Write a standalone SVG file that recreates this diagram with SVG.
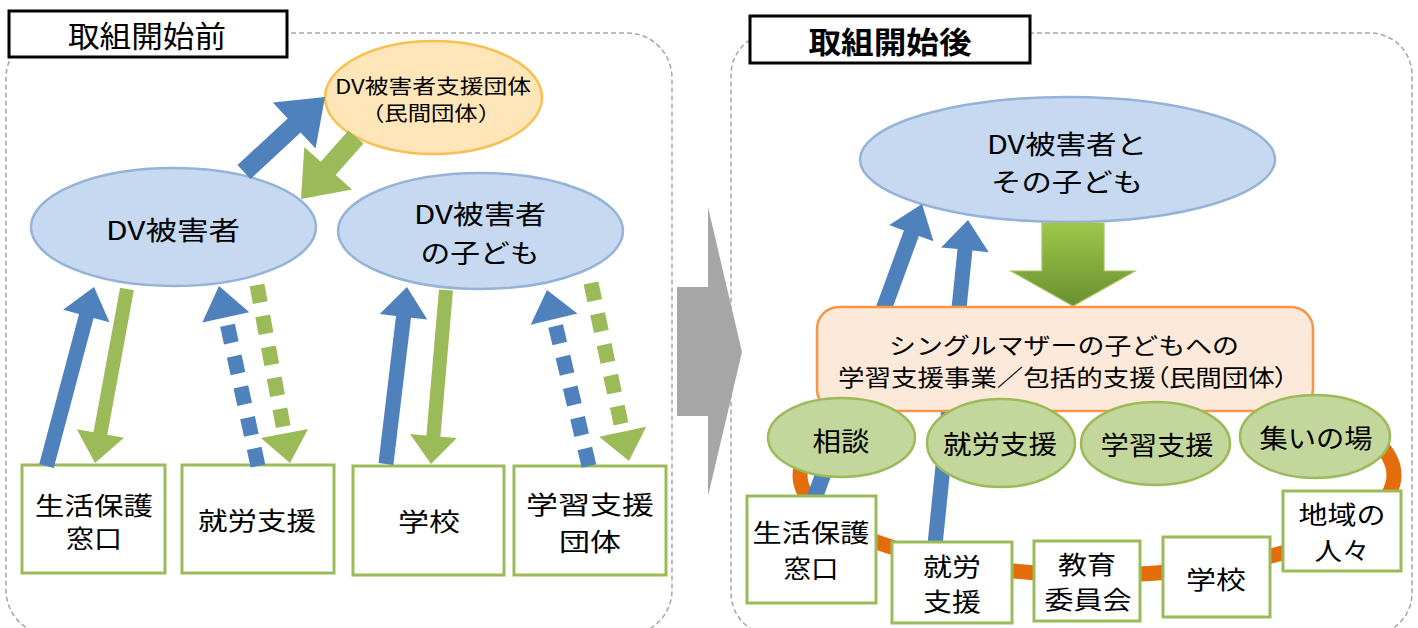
<svg xmlns="http://www.w3.org/2000/svg" width="1418" height="628" viewBox="0 0 1418 628">
<style>
.t{font-family:"Noto Sans CJK JP","Noto Sans CJK SC",sans-serif;fill:#000;text-anchor:middle;dominant-baseline:central}
.f30{font-size:30px}
.f26{font-size:26px}
.f25{font-size:25px}
.f23{font-size:23px}
.f20{font-size:20px}
.b{font-weight:bold}
.palt{font-feature-settings:"palt"}
.panel{fill:none;stroke:#A6A6A6;stroke-width:1.5;stroke-dasharray:5 3}
.label{fill:#fff;stroke:#000;stroke-width:3}
.box{fill:#fff;stroke:#9BBB59;stroke-width:3}
.blueell{fill:#C6D9F1;stroke:#95B3D7;stroke-width:2.5}
.greenell{fill:#C3D69B;stroke:#9BBB59;stroke-width:2.5}
.blue{fill:#4F81BD}
.green{fill:#9BBB59}
.bdash{fill:none;stroke:#4F81BD;stroke-width:15;stroke-dasharray:18 13.5}
.gdash{fill:none;stroke:#9BBB59;stroke-width:15;stroke-dasharray:18 13.5}
</style>
<defs>
<linearGradient id="gdown" x1="0" y1="223" x2="0" y2="306" gradientUnits="userSpaceOnUse">
<stop offset="0" stop-color="#9DC64A"/>
<stop offset="1" stop-color="#6A9030"/>
</linearGradient>
</defs>

<!-- LEFT PANEL -->
<rect class="panel" x="6" y="33" width="666" height="602" rx="45"/>
<g id="label-before">
<rect class="label" x="9" y="11" width="278" height="46"/>
<text class="t f30" x="147" y="34" textLength="158" lengthAdjust="spacingAndGlyphs">取組開始前</text>
</g>
<g id="node-shien">
<ellipse cx="433.5" cy="97.5" rx="108.5" ry="56.5" fill="#FFE6B8" stroke="#FABF50" stroke-width="2.5"/>
<text class="t f20" x="433" y="85" textLength="196" lengthAdjust="spacingAndGlyphs">DV被害者支援団体</text>
<text class="t f20" x="431" y="112" textLength="140" lengthAdjust="spacingAndGlyphs">（民間団体）</text>
</g>
<g id="node-victim">
<ellipse class="blueell" cx="173.5" cy="227" rx="142.5" ry="59"/>
<text class="t f26" x="173" y="228" textLength="134" lengthAdjust="spacingAndGlyphs">DV被害者</text>
</g>
<g id="node-child">
<ellipse class="blueell" cx="480.5" cy="231" rx="142.5" ry="58"/>
<text class="t f26" x="480" y="212" textLength="132" lengthAdjust="spacingAndGlyphs">DV被害者</text>
<text class="t f26" x="480" y="251" textLength="119" lengthAdjust="spacingAndGlyphs">の子ども</text>
</g>
<g id="node-seikatsu-l">
<rect class="box" x="22" y="465" width="143" height="108"/>
<text class="t f25" x="94" y="504" textLength="118" lengthAdjust="spacingAndGlyphs">生活保護</text>
<text class="t f25" x="94" y="537" textLength="56" lengthAdjust="spacingAndGlyphs">窓口</text>
</g>
<g id="node-shuro-l">
<rect class="box" x="182" y="465" width="152" height="108"/>
<text class="t f25" x="257" y="519" textLength="118" lengthAdjust="spacingAndGlyphs">就労支援</text>
</g>
<g id="node-gakko-l">
<rect class="box" x="353" y="466" width="151" height="109"/>
<text class="t f25" x="429" y="520" textLength="62" lengthAdjust="spacingAndGlyphs">学校</text>
</g>
<g id="node-gakushu-l">
<rect class="box" x="514" y="466" width="152" height="109"/>
<text class="t f25" x="590" y="503" textLength="128" lengthAdjust="spacingAndGlyphs">学習支援</text>
<text class="t f25" x="590" y="540" textLength="62" lengthAdjust="spacingAndGlyphs">団体</text>
</g>

<g id="connectors-left">
<polygon class="blue" points="250.5,179 300.6,132.5 315.6,148.6 325,97 272.8,102.4 287.7,118.5 237.5,165"/>
<polygon class="green" points="348.5,130.4 320.7,161.7 304.3,147.1 301,199 352.1,189.5 335.7,174.9 363.5,143.6"/>
<polygon class="blue" points="53.75,467.9 93.55,317.9 109.5,322.2 94,287 63.1,309.8 79.05,314.1 39.25,464.1"/>
<polygon class="green" points="120.1,287.7 93.5,432.2 76.8,429.2 95,463 124,437.8 107.3,434.8 133.9,290.3"/>
<line class="bdash" x1="258" y1="466" x2="225.8" y2="317.3"/>
<polygon class="blue" points="249.3,312.2 219,286 202.3,322.4"/>
<line class="gdash" x1="257" y1="285" x2="284.5" y2="433.5"/>
<polygon class="green" points="260.9,437.9 290,463 308.1,429.1"/>
<polygon class="blue" points="393.4,464.9 411,317.7 427.3,319.6 407,287 379.7,314 396,315.9 378.5,463.1"/>
<polygon class="green" points="439,289.4 426.4,435.5 410,434.1 431,464 456.8,438.1 440.4,436.7 453,290.6"/>
<line class="bdash" x1="589" y1="466" x2="554" y2="319.2"/>
<polygon class="blue" points="577.4,313.6 547,290 530.7,324.8"/>
<line class="gdash" x1="591" y1="283" x2="622.7" y2="431.7"/>
<polygon class="green" points="599.2,436.7 629,461 646.2,426.7"/>
</g>

<!-- MIDDLE ARROW -->
<g id="transition-arrow">
<polygon fill="#A6A6A6" points="677,287 708,287 708,207 742,352 708,496 708,416 677,416"/>
</g>

<!-- RIGHT PANEL -->
<rect class="panel" x="731" y="33" width="681" height="602" rx="42"/>
<g id="label-after">
<rect class="label" x="750" y="16" width="280" height="47"/>
<text class="t f30 b" x="890" y="40" textLength="163" lengthAdjust="spacingAndGlyphs">取組開始後</text>
</g>

<g id="connectors-right">
<ellipse cx="1097" cy="475" rx="297" ry="100" fill="none" stroke="#E46C0A" stroke-width="15"/>
</g>

<g id="node-both">
<ellipse class="blueell" cx="1067.5" cy="159.5" rx="207.5" ry="62.5"/>
<text class="t f26" x="1067" y="142" textLength="160" lengthAdjust="spacingAndGlyphs">DV被害者と</text>
<text class="t f26" x="1067" y="180" textLength="152" lengthAdjust="spacingAndGlyphs">その子ども</text>
</g>

<g id="connectors-right-arrows">
<polygon class="blue" points="819.5,507.7 918.9,235.9 933.5,241.2 922,204 889.3,225 903.9,230.4 804.5,502.3"/>
<polygon class="blue" points="942.5,545.8 972.4,250.6 988.8,252.2 968,220 941.1,247.4 957.5,249 927.5,544.2"/>
<polygon fill="url(#gdown)" stroke="#A3C45E" stroke-width="1.2" points="1042,223 1104,223 1104,271 1135,271 1073,306 1011,271 1042,271"/>
</g>

<g id="node-org">
<rect x="817" y="307" width="496" height="104" rx="22" fill="#FDE9D9" stroke="#F79646" stroke-width="2.5"/>
<text class="t f23" x="1064" y="344" textLength="350" lengthAdjust="spacingAndGlyphs">シングルマザーの子どもへの</text>
<text class="t f23 palt" x="1063" y="376" textLength="450" lengthAdjust="spacingAndGlyphs">学習支援事業／包括的支援（民間団体）</text>
</g>
<g id="node-sodan">
<ellipse class="greenell" cx="841.5" cy="437.5" rx="73.5" ry="39.5"/>
<text class="t f26" x="841" y="439" textLength="57" lengthAdjust="spacingAndGlyphs">相談</text>
</g>
<g id="node-shuro-e">
<ellipse class="greenell" cx="1001" cy="443" rx="74" ry="44"/>
<text class="t f26" x="1000" y="442" textLength="114" lengthAdjust="spacingAndGlyphs">就労支援</text>
</g>
<g id="node-gakushu-e">
<ellipse class="greenell" cx="1155.5" cy="443.5" rx="74.5" ry="41.5"/>
<text class="t f26" x="1157" y="443" textLength="113" lengthAdjust="spacingAndGlyphs">学習支援</text>
</g>
<g id="node-tsudoi">
<ellipse class="greenell" cx="1315" cy="436.5" rx="75" ry="41.5"/>
<text class="t f26" x="1316" y="436" textLength="113" lengthAdjust="spacingAndGlyphs">集いの場</text>
</g>

<g id="node-seikatsu-r">
<rect class="box" x="747" y="496" width="129" height="107"/>
<text class="t f25" x="811" y="531" textLength="117" lengthAdjust="spacingAndGlyphs">生活保護</text>
<text class="t f25" x="811" y="567" textLength="55" lengthAdjust="spacingAndGlyphs">窓口</text>
</g>
<g id="node-shuro-r">
<rect class="box" x="892" y="542" width="120" height="81"/>
<text class="t f25" x="952" y="565" textLength="58" lengthAdjust="spacingAndGlyphs">就労</text>
<text class="t f25" x="952" y="600" textLength="58" lengthAdjust="spacingAndGlyphs">支援</text>
</g>
<g id="node-kyoiku">
<rect class="box" x="1034" y="541" width="106" height="80"/>
<text class="t f25" x="1087" y="563" textLength="58" lengthAdjust="spacingAndGlyphs">教育</text>
<text class="t f25" x="1088" y="598" textLength="87" lengthAdjust="spacingAndGlyphs">委員会</text>
</g>
<g id="node-gakko-r">
<rect class="box" x="1163" y="537" width="107" height="80"/>
<text class="t f25" x="1216" y="578" textLength="60" lengthAdjust="spacingAndGlyphs">学校</text>
</g>
<g id="node-chiiki">
<rect class="box" x="1283" y="491" width="118" height="80"/>
<text class="t f25" x="1342" y="513" textLength="87" lengthAdjust="spacingAndGlyphs">地域の</text>
<text class="t f25" x="1342" y="549" textLength="55" lengthAdjust="spacingAndGlyphs">人々</text>
</g>
</svg>
